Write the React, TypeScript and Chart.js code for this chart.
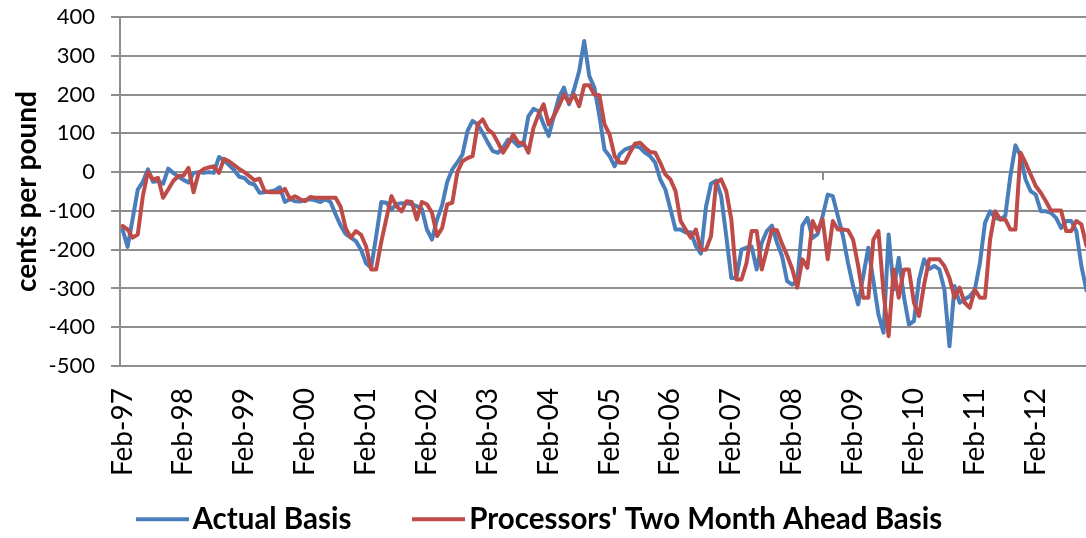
import { useEffect, useRef } from 'react';
import { Chart, registerables } from 'chart.js';

Chart.register(...registerables);

const MONTH_NAMES = ['Jan', 'Feb', 'Mar', 'Apr', 'May', 'Jun', 'Jul', 'Aug', 'Sep', 'Oct', 'Nov', 'Dec'];

// Monthly categories from Feb-97 to Dec-12
const CATEGORIES: string[] = [];
for (let k = 0; k < 191; k++) {
  const m = (1 + k) % 12;
  const y = 1997 + Math.floor((1 + k) / 12);
  CATEGORIES.push(`${MONTH_NAMES[m]}-${String(y % 100).padStart(2, '0')}`);
}

const TICK_LABELS = [
  'Feb-97', 'Feb-98', 'Feb-99', 'Feb-00', 'Feb-01', 'Feb-02', 'Feb-03', 'Feb-04',
  'Feb-05', 'Feb-06', 'Feb-07', 'Feb-08', 'Feb-09', 'Feb-10', 'Feb-11', 'Feb-12',
];

// one row per year, Feb .. Jan
const ACTUAL_BASIS = [
  -148, -193, -120, -45, -25, 7, -25, -23, -30, 9, -2, -12,
  -20, -27, -2, 0, -2, 0, -2, 39, 30, 18, 5, -12,
  -15, -28, -32, -53, -52, -50, -47, -39, -77, -70, -75, -76,
  -72, -70, -73, -77, -70, -77, -109, -138, -160, -169, -178, -200,
  -235, -247, -165, -77, -79, -96, -83, -80, -80, -83, -88, -95,
  -148, -174, -122, -85, -25, 7, 25, 45, 106, 132, 123, 101,
  76, 54, 50, 63, 84, 80, 67, 71, 144, 163, 157, 123,
  93, 144, 192, 218, 175, 213, 260, 338, 248, 218, 144, 58,
  41, 15, 46, 58, 63, 67, 63, 50, 41, 24, -19, -45,
  -96, -148, -148, -156, -155, -190, -210, -90, -30, -22, -62, -165,
  -273, -273, -200, -195, -192, -251, -182, -152, -138, -182, -217, -281,
  -290, -280, -138, -118, -170, -160, -113, -58, -62, -113, -165, -234,
  -294, -341, -268, -195, -280, -367, -414, -161, -303, -221, -320, -393,
  -384, -277, -225, -250, -242, -251, -303, -449, -294, -337, -328, -320,
  -303, -234, -131, -101, -118, -122, -113, -10, 69, 41, -19, -49,
  -58, -101, -101, -105, -118, -144, -126, -126, -152, -242, -305,
];

const PROCESSORS_BASIS = [
  -139, -148, -169, -161, -62, 0, -19, -15, -66, -45, -23, -10,
  -9, 11, -52, -2, 8, 12, 15, -2, 34, 28, 18, 8,
  0, -10, -21, -17, -49, -52, -52, -52, -43, -69, -62, -70,
  -75, -64, -66, -66, -66, -66, -66, -90, -145, -169, -152, -161,
  -191, -251, -251, -180, -120, -62, -88, -101, -75, -77, -122, -77,
  -83, -105, -165, -144, -83, -79, 0, 28, 36, 41, 123, 136,
  110, 100, 76, 50, 71, 97, 76, 76, 50, 114, 149, 175,
  123, 144, 170, 200, 179, 200, 170, 224, 224, 200, 198, 123,
  97, 41, 24, 24, 50, 73, 76, 63, 52, 50, 24, -6,
  -19, -49, -126, -148, -169, -148, -200, -200, -165, -28, -19, -49,
  -122, -277, -277, -234, -152, -152, -251, -200, -148, -150, -185, -215,
  -250, -298, -225, -247, -126, -152, -122, -225, -126, -148, -148, -150,
  -174, -242, -324, -324, -174, -152, -311, -423, -251, -324, -251, -251,
  -337, -371, -290, -225, -225, -225, -242, -273, -324, -298, -337, -350,
  -303, -324, -324, -174, -101, -122, -122, -148, -148, 50, 24, -6,
  -36, -53, -75, -99, -99, -99, -152, -152, -126, -135, -190,
];

const SERIES_NAMES = ['Actual Basis', "Processors' Two Month Ahead Basis"];
const SERIES_COLORS = ['#4A7EBB', '#BE4B48'];
const Y_MIN = -500;
const Y_MAX = 400;
const Y_STEP = 100;
const Y_TITLE = 'cents per pound';

const FONT = 'Lato, "Open Sans", sans-serif';
const GRID_COLOR = '#8e8e8e';
const GRID_W = 2;

function legendLine(color: string) {
  const c = document.createElement('canvas');
  c.width = 53;
  c.height = 6;
  const g = c.getContext('2d')!;
  g.fillStyle = color;
  g.fillRect(0, 1, 53, 4);
  return c;
}

const isFebTick = (i: number) => typeof i === 'number' && TICK_LABELS.includes(CATEGORIES[i]);

const zeroPadding = (s: any) => {
  s.paddingLeft = 0;
  s.paddingRight = 0;
  s.paddingTop = 0;
  s.paddingBottom = 0;
};

export default function App() {
  const ref = useRef<HTMLCanvasElement>(null);

  useEffect(() => {
    const imgs = SERIES_COLORS.map(legendLine);
    const chart = new Chart(ref.current!, {
      type: 'line',
      data: {
        labels: CATEGORIES,
        datasets: [
          {
            label: SERIES_NAMES[0],
            data: ACTUAL_BASIS,
            borderColor: SERIES_COLORS[0],
            backgroundColor: SERIES_COLORS[0],
            borderWidth: 4,
            pointRadius: 0,
            tension: 0,
            fill: false,
            borderJoinStyle: 'round',
            borderCapStyle: 'round',
            xAxisID: 'x',
            order: 1,
          },
          {
            label: SERIES_NAMES[1],
            data: PROCESSORS_BASIS,
            borderColor: SERIES_COLORS[1],
            backgroundColor: SERIES_COLORS[1],
            borderWidth: 4,
            pointRadius: 0,
            tension: 0,
            fill: false,
            borderJoinStyle: 'round',
            borderCapStyle: 'round',
            xAxisID: 'x',
            order: 0,
          },
        ],
      },
      options: {
        responsive: false,
        animation: false,
        events: [],
        layout: { padding: { top: 17, left: 0, right: 0, bottom: 0 } },
        scales: {
          x: {
            type: 'category',
            position: 'bottom',
            offset: true,
            grid: { display: false },
            border: { display: false },
            ticks: { display: false, autoSkip: false },
            afterFit: (s: any) => {
              zeroPadding(s);
              s.height = 66.5;
            },
          },
          x2: {
            type: 'category',
            axis: 'x',
            position: { y: 0 },
            offset: true,
            grid: {
              offset: true,
              drawOnChartArea: false,
              drawTicks: true,
              tickLength: 8,
              lineWidth: GRID_W,
              color: (ctx: any) => (isFebTick(ctx.index) ? GRID_COLOR : 'rgba(0,0,0,0)'),
            },
            border: { display: false },
            ticks: {
              display: true,
              autoSkip: false,
              minRotation: 90,
              maxRotation: 90,
              padding: 208,
              color: '#000',
              font: { family: FONT, size: 28 },
              callback: (_v: any, i: number) => (isFebTick(i) ? CATEGORIES[i] : null),
            },
            afterFit: zeroPadding,
          },
          y: {
            min: Y_MIN,
            max: Y_MAX,
            ticks: {
              stepSize: Y_STEP,
              padding: 16,
              color: '#000',
              font: { family: FONT, size: 22 },
            },
            grid: { color: GRID_COLOR, lineWidth: GRID_W, tickLength: 9 },
            border: { display: true, color: GRID_COLOR, width: GRID_W },
            title: {
              display: true,
              text: Y_TITLE,
              color: '#000',
              font: { family: FONT, size: 28, weight: 'bold' },
              padding: { top: 10, bottom: 0 },
            },
            afterFit: (s: any) => {
              zeroPadding(s);
              s.width = 120;
            },
          },
        },
        plugins: {
          legend: {
            position: 'bottom',
            labels: {
              usePointStyle: true,
              pointStyleWidth: 31,
              padding: 72,
              color: '#000',
              font: { family: FONT, size: 29.5, weight: 'bold' },
              generateLabels: (c: any) => {
                const items = (Chart.defaults.plugins.legend.labels as any).generateLabels(c);
                items.forEach((it: any) => {
                  it.pointStyle = imgs[it.datasetIndex];
                });
                return items;
              },
              sort: (a: any, b: any) => a.datasetIndex - b.datasetIndex,
            },
          },
          tooltip: { enabled: false },
        },
      } as any,
    });
    return () => chart.destroy();
  }, []);

  return (
    <div
      style={{
        position: 'fixed',
        left: 0,
        top: 0,
        width: 1086,
        height: 538,
        overflow: 'hidden',
        background: '#fff',
      }}
    >
      <canvas ref={ref} width={1089} height={544} style={{ display: 'block', width: 1089, height: 544 }} />
    </div>
  );
}
